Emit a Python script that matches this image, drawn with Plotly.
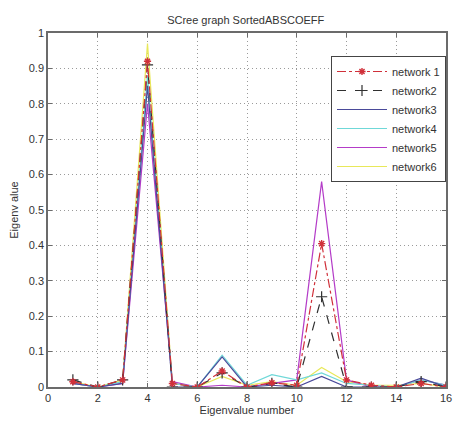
import plotly.graph_objects as go

x_vals = list(range(1, 17))
network1 = [0.015, 0.0, 0.02, 0.92, 0.01, 0.0, 0.045, 0.0, 0.012, 0.005, 0.405, 0.02, 0.005, 0.0, 0.01, 0.0]
network2 = [0.02, 0.0, 0.02, 0.91, 0.0, 0.0, 0.04, 0.0, 0.01, 0.0, 0.255, 0.0, 0.0, 0.0, 0.015, 0.0]
network3 = [0.01, 0.0, 0.01, 0.85, 0.0, 0.0, 0.085, 0.0, 0.005, 0.0, 0.03, 0.0, 0.0, 0.0, 0.025, 0.0]
network4 = [0.01, 0.0, 0.015, 0.88, 0.01, 0.0, 0.09, 0.005, 0.035, 0.02, 0.04, 0.01, 0.005, 0.0, 0.02, 0.005]
network5 = [0.01, 0.0, 0.01, 0.80, 0.015, 0.0, 0.005, 0.0, 0.01, 0.02, 0.58, 0.02, 0.0, 0.0, 0.02, 0.005]
network6 = [0.015, 0.0, 0.02, 0.97, 0.01, 0.0, 0.03, 0.005, 0.015, 0.005, 0.055, 0.015, 0.005, 0.005, 0.01, 0.0]

x_ticks = [0, 2, 4, 6, 8, 10, 12, 14, 16]
y_ticks = [0, 0.1, 0.2, 0.3, 0.4, 0.5, 0.6, 0.7, 0.8, 0.9, 1]
y_tick_text = ["0", "0.1", "0.2", "0.3", "0.4", "0.5", "0.6", "0.7", "0.8", "0.9", "1"]

FONT = "Liberation Sans"
TXT = "#333333"

fig = go.Figure()
fig.add_trace(go.Scatter(x=x_vals, y=network6, name="network6", mode="lines",
                         line=dict(color="#e8e85a", width=1.2), legendrank=6))
fig.add_trace(go.Scatter(x=x_vals, y=network5, name="network5", mode="lines",
                         line=dict(color="#b43cc8", width=1.2), legendrank=5))
fig.add_trace(go.Scatter(x=x_vals, y=network4, name="network4", mode="lines",
                         line=dict(color="#6fd8d8", width=1.2), legendrank=4))
fig.add_trace(go.Scatter(x=x_vals, y=network3, name="network3", mode="lines",
                         line=dict(color="#4a4a9a", width=1.2), legendrank=3))
fig.add_trace(go.Scatter(x=x_vals, y=network2, name="network2", mode="lines+markers",
                         line=dict(color="#303030", width=1.2, dash="dash"),
                         marker=dict(symbol="cross-thin-open", size=8, line=dict(color="#303030", width=1.2)),
                         legendrank=2))
fig.add_trace(go.Scatter(x=x_vals, y=network1, name="network 1", mode="lines+markers",
                         line=dict(color="#d0303a", width=1.2, dash="dashdot"),
                         marker=dict(symbol="asterisk-open", size=6, line=dict(color="#d0303a", width=1.4)),
                         legendrank=1))

axis_common = dict(showline=True, linecolor="#6b6b6b", linewidth=1.5, mirror="ticks",
                   ticks="inside", ticklen=4, tickcolor="#6b6b6b",
                   showgrid=True, gridcolor="#9a9a9a", griddash="1px,3px", gridwidth=1,
                   zeroline=False, automargin=False,
                   tickfont=dict(family=FONT, size=11, color=TXT))

fig.update_xaxes(range=[0, 16], tickvals=x_ticks, ticktext=[str(t) for t in x_ticks],
                 title=dict(text="Eigenvalue number", font=dict(family=FONT, size=11, color=TXT), standoff=2),
                 **axis_common)
fig.update_yaxes(range=[0, 1], tickvals=y_ticks, ticktext=y_tick_text,
                 title=dict(text="Eigenv alue", font=dict(family=FONT, size=11, color=TXT), standoff=8),
                 **axis_common)

fig.update_layout(
    width=455, height=424,
    margin=dict(l=48, r=9, t=33, b=37),
    paper_bgcolor="white", plot_bgcolor="white",
    title=dict(text="SCree graph SortedABSCOEFF", x=0.54, xanchor="center", y=0.953, yanchor="middle",
               font=dict(family=FONT, size=11, color=TXT)),
    legend=dict(x=1.0, y=0.935, xanchor="right", yanchor="top", bgcolor="white",
                bordercolor="#444", borderwidth=1, font=dict(family=FONT, size=11, color=TXT),
                traceorder="normal", itemwidth=50, tracegroupgap=0),
    showlegend=True,
)

fig.write_html("out.html", config={"displayModeBar": False},
               post_script="document.body.style.margin='0';document.body.style.overflow='hidden';")
